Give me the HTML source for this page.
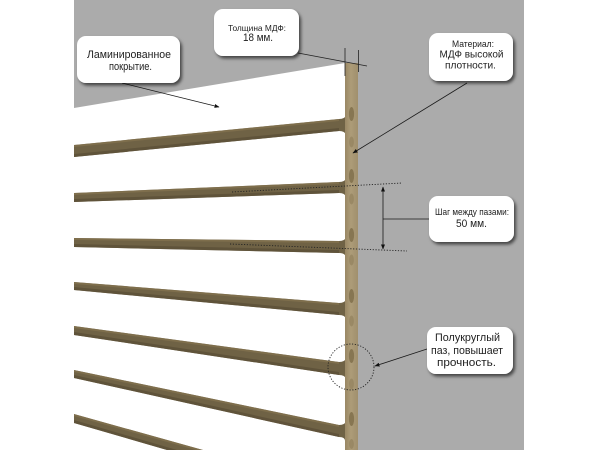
<!DOCTYPE html>
<html><head><meta charset="utf-8"><style>
html,body{margin:0;padding:0;background:#fff;width:600px;height:450px;overflow:hidden;}
svg{display:block;overflow:hidden;}
text{font-family:"Liberation Sans","DejaVu Sans",sans-serif;fill:#1e1e1e;text-anchor:middle;}
</style></head><body>
<svg width="600" height="450" viewBox="0 0 600 450" xmlns="http://www.w3.org/2000/svg">
<defs>
<filter id="sh" x="-20%" y="-20%" width="150%" height="160%">
<feDropShadow dx="2" dy="2.5" stdDeviation="1.6" flood-color="#000" flood-opacity="0.6"/>
</filter>
<linearGradient id="strip" x1="0" x2="1" y1="0" y2="0">
<stop offset="0" stop-color="#998764"/>
<stop offset="0.45" stop-color="#ad9c78"/>
<stop offset="1" stop-color="#a08f6d"/>
</linearGradient>
<marker id="ah" viewBox="0 0 10 10" refX="9" refY="5" markerWidth="5" markerHeight="5" orient="auto-start-reverse" markerUnits="userSpaceOnUse">
<path d="M0,1 L10,5 L0,9 Z" fill="#111"/>
</marker>
</defs>

<!-- grey backdrop -->
<rect x="74" y="0" width="450" height="450" fill="#ababab"/>
<!-- white panel -->
<polygon points="74,108 345,63 345,450 74,450" fill="#ffffff"/>

<!-- slats -->
<g fill="#6f6245">
<path d="M74,145 L339,119 Q345,119 346,115 L346,135 Q345,131 339,131 L74,157 Z"/>
<path d="M74,193 L339,182 Q345,182 346,178 L346,197 Q345,193 339,193 L74,202 Z"/>
<path d="M74,238 L339,241 Q345,241 346,237 L346,257 Q345,253 339,253 L74,247 Z"/>
<path d="M74,282 L339,303 Q345,303 346,299 L346,319 Q345,315 339,315 L74,290 Z"/>
<path d="M74,326 L339,362 Q345,362 346,358 L346,379 Q345,375 339,375 L74,335 Z"/>
<path d="M74,370 L339,425 Q345,425 346,421 L346,441 Q345,437 339,437 L346,437 L346,450 L345,450 L345,441 Q345,437 339,437 L74,378 Z"/>
<path d="M74,414 L203,450 L167,450 L74,423 Z"/>
</g>
<g fill="#5c5038" opacity="0.8">
<path d="M74,154 L339,128 L339,131 L74,157 Z"/>
<path d="M74,199 L339,190 L339,193 L74,202 Z"/>
<path d="M74,244 L339,250 L339,253 L74,247 Z"/>
<path d="M74,287 L339,312 L339,315 L74,290 Z"/>
<path d="M74,332 L339,372 L339,375 L74,335 Z"/>
<path d="M74,375 L339,434 L339,437 L74,378 Z"/>
<path d="M74,420 L177,450 L167,450 L74,423 Z"/>
</g>
<g fill="#857450" opacity="0.7">
<path d="M74,145 L339,119 L339,121 L74,147 Z"/>
<path d="M74,193 L339,182 L339,184 L74,195 Z"/>
<path d="M74,238 L339,241 L339,243 L74,240 Z"/>
<path d="M74,282 L339,303 L339,305 L74,284 Z"/>
<path d="M74,326 L339,362 L339,364 L74,328 Z"/>
<path d="M74,370 L339,425 L339,427 L74,372 Z"/>
<path d="M74,414 L203,450 L196,450 L74,416 Z"/>
</g>

<!-- vertical MDF strip -->
<rect x="345" y="63" width="13" height="387" fill="url(#strip)"/>
<!-- slots -->
<g fill="#877652">
<ellipse cx="351.5" cy="114" rx="2.6" ry="7"/>
<ellipse cx="351.5" cy="176" rx="2.6" ry="7"/>
<ellipse cx="351.5" cy="235" rx="2.6" ry="7"/>
<ellipse cx="351.5" cy="296" rx="2.6" ry="7"/>
<ellipse cx="351.5" cy="356" rx="2.6" ry="7"/>
<ellipse cx="351.5" cy="419" rx="2.6" ry="7"/>
</g>
<g fill="#94835f" opacity="0.75">
<ellipse cx="351.5" cy="142" rx="2.4" ry="5.5"/>
<ellipse cx="351.5" cy="199" rx="2.4" ry="5.5"/>
<ellipse cx="351.5" cy="260" rx="2.4" ry="5.5"/>
<ellipse cx="351.5" cy="321" rx="2.4" ry="5.5"/>
<ellipse cx="351.5" cy="384" rx="2.4" ry="5.5"/>
<ellipse cx="351.5" cy="444" rx="2.4" ry="5"/>
</g>

<!-- thickness dimension -->
<g stroke="#222" stroke-width="0.8" fill="none">
<line x1="298" y1="53" x2="367" y2="66"/>
<line x1="345" y1="48" x2="345" y2="76"/>
<line x1="358.5" y1="50" x2="358.5" y2="72"/>
</g>

<!-- leader lines -->
<g stroke="#1a1a1a" stroke-width="0.8" fill="none">
<line x1="122" y1="83" x2="219" y2="107" marker-end="url(#ah)"/>
<line x1="467" y1="83" x2="353" y2="153" marker-end="url(#ah)"/>
<line x1="383" y1="219" x2="429" y2="219"/>
<line x1="383" y1="187" x2="383" y2="249" marker-start="url(#ah)" marker-end="url(#ah)"/>
<line x1="427" y1="349" x2="375" y2="366" marker-end="url(#ah)"/>
</g>
<g stroke="#222" stroke-width="0.9" fill="none" stroke-dasharray="1.2,1.6">
<line x1="232" y1="192" x2="402" y2="183"/>
<line x1="230" y1="244" x2="407" y2="251"/>
<circle cx="351" cy="367" r="23"/>
</g>

<!-- callout boxes -->
<g fill="#fff" filter="url(#sh)">
<rect x="77" y="36" width="103" height="47" rx="9"/>
<rect x="214" y="9" width="85" height="47" rx="9"/>
<rect x="429" y="33" width="84" height="48" rx="9"/>
<rect x="429" y="196" width="85" height="46" rx="9"/>
<rect x="427" y="327" width="86" height="47" rx="9"/>
</g>

<text x="129" y="58" font-size="10.8" textLength="84" lengthAdjust="spacingAndGlyphs">Ламинированное</text>
<text x="130.5" y="70" font-size="10.8" textLength="43" lengthAdjust="spacingAndGlyphs">покрытие.</text>

<text x="257" y="31" font-size="8.6" textLength="58" lengthAdjust="spacingAndGlyphs">Толщина МДФ:</text>
<text x="258" y="41" font-size="10.6" textLength="30" lengthAdjust="spacingAndGlyphs">18 мм.</text>

<text x="473" y="47" font-size="8.8" textLength="42" lengthAdjust="spacingAndGlyphs">Материал:</text>
<text x="471.5" y="57.5" font-size="10.2" textLength="64" lengthAdjust="spacingAndGlyphs">МДФ высокой</text>
<text x="470.5" y="68.5" font-size="10.2" textLength="51" lengthAdjust="spacingAndGlyphs">плотности.</text>

<text x="472" y="215" font-size="9" textLength="74" lengthAdjust="spacingAndGlyphs">Шаг между пазами:</text>
<text x="471.5" y="227" font-size="10.6" textLength="31" lengthAdjust="spacingAndGlyphs">50 мм.</text>

<text x="467.5" y="341" font-size="10.6" textLength="65" lengthAdjust="spacingAndGlyphs">Полукруглый</text>
<text x="467" y="354" font-size="10.6" textLength="72" lengthAdjust="spacingAndGlyphs">паз, повышает</text>
<text x="466.5" y="366" font-size="10.6" textLength="59" lengthAdjust="spacingAndGlyphs">прочность.</text>
</svg>
</body></html>
